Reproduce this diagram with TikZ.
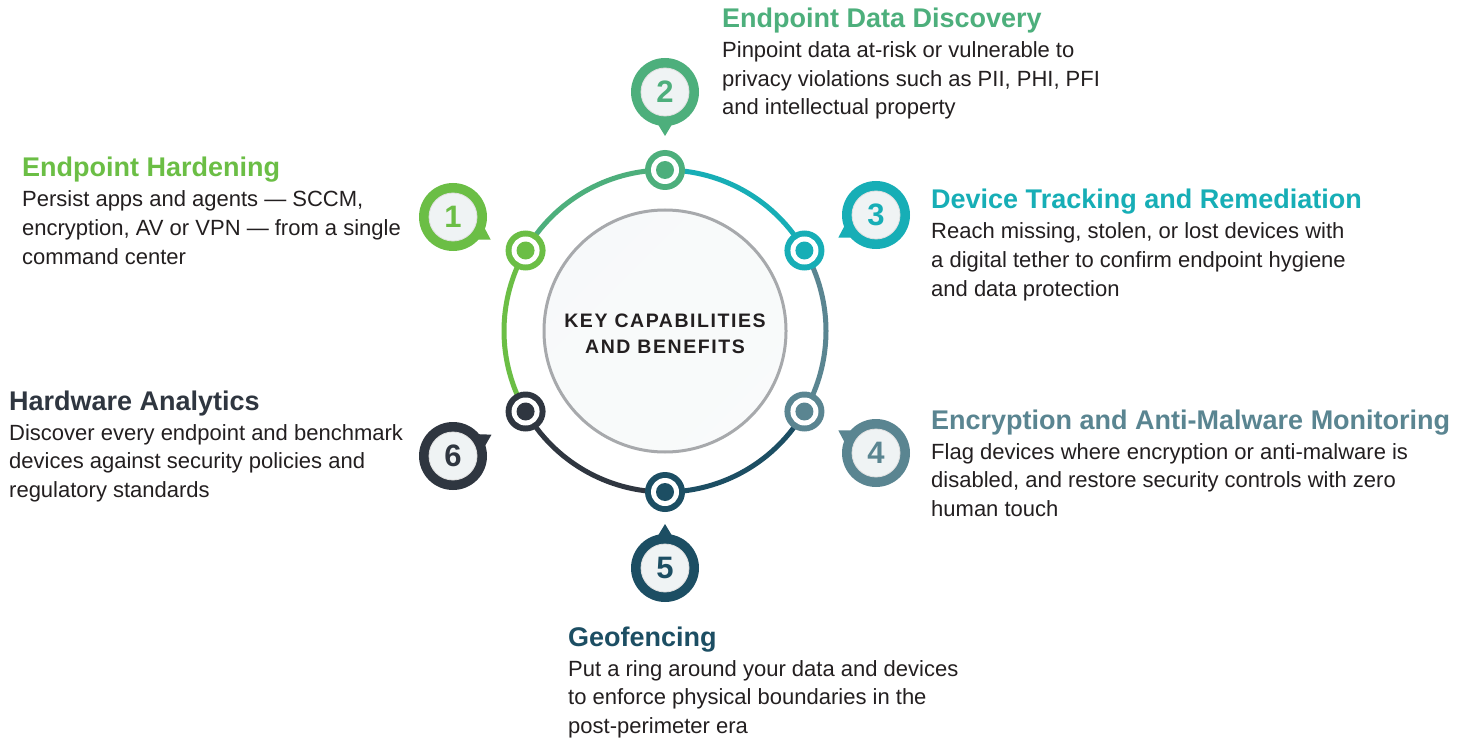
\documentclass[tikz,border=0pt]{standalone}
\usepackage{fontspec}
\setmainfont{Liberation Sans}
\usetikzlibrary{calc}
\definecolor{cA}{HTML}{6BBE45}
\definecolor{cB}{HTML}{4DAF7C}
\definecolor{cC}{HTML}{17AEB6}
\definecolor{cD}{HTML}{5A8591}
\definecolor{cE}{HTML}{1C4E63}
\definecolor{cF}{HTML}{2F3640}
\definecolor{txt}{HTML}{231F20}
\definecolor{pale}{HTML}{EFF3F4}
\definecolor{edge}{HTML}{A7A9AC}
\newcommand\infoblock[8]{%
  \node[titletext,text=#4] (#1t) at (#2,#3) {#5};
  \node[bodytext] (#1a) at (#2,#3+30) {#6};
  \node[bodytext] (#1b) at (#2,#3+58.5) {#7};
  \node[bodytext] (#1c) at (#2,#3+87) {#8};
}
\begin{document}
\begin{tikzpicture}[x=1pt,y=-1pt,
  titletext/.style={anchor=base west,inner sep=0pt,font=\fontsize{27}{30}\selectfont\bfseries},
  bodytext/.style={anchor=base west,inner sep=0pt,text=txt,font=\fontsize{22}{26}\selectfont},
  ringline/.style={line width=5pt},
  markout/.style={circle,fill=#1,minimum size=40pt,inner sep=0pt},
  markin/.style={circle,fill=white,minimum size=28pt,inner sep=0pt},
  markdot/.style={circle,fill=#1,minimum size=18pt,inner sep=0pt},
  bubble/.style={circle,fill=#1,minimum size=68pt,inner sep=0pt},
  bubblein/.style={circle,fill=pale,draw=black!12,line width=0.8pt,minimum size=48pt,inner sep=0pt,text=#1,font=\fontsize{31}{31}\selectfont\bfseries},
  keytext/.style={anchor=base,inner sep=0pt,text=txt,font=\fontsize{19.5}{22}\selectfont\bfseries\addfontfeature{LetterSpace=8}}
]
\useasboundingbox (0,0) rectangle (1475,738);
\fill[white] (0,0) rectangle (1475,738);

% ring centre
\coordinate (c) at (665,331);

% centre disc
\node[circle,minimum size=242pt,inner sep=0pt,draw=edge,line width=3pt,
  left color=pale!85!cD!20,right color=white!60!pale,shading angle=45] (core) at (c) {};
\node[keytext] (k1) at (665,327) {KEY CAPABILITIES};
\node[keytext] (k2) at (665,353) {AND BENEFITS};

% marker positions
\coordinate (p1) at ($(c)+(150:161pt)$);
\coordinate (p2) at ($(c)+(90:161pt)$);
\coordinate (p3) at ($(c)+(30:161pt)$);
\coordinate (p4) at ($(c)+(-30:161pt)$);
\coordinate (p5) at ($(c)+(-90:161pt)$);
\coordinate (p6) at ($(c)+(-150:161pt)$);

% ring arcs
\draw[ringline,cB] (p1) arc[start angle=150,end angle=90,radius=161pt];
\draw[ringline,cC] (p2) arc[start angle=90,end angle=30,radius=161pt];
\draw[ringline,cD] (p3) arc[start angle=30,end angle=-30,radius=161pt];
\draw[ringline,cE] (p4) arc[start angle=-30,end angle=-90,radius=161pt];
\draw[ringline,cF] (p5) arc[start angle=-90,end angle=-150,radius=161pt];
\draw[ringline,cA] (p6) arc[start angle=-150,end angle=-210,radius=161pt];

% markers
\foreach \i/\col in {1/cA,2/cB,3/cC,4/cD,5/cE,6/cF}{
  \node[markout=\col] (mo\i) at (p\i) {};
  \node[markin] (mi\i) at (p\i) {};
  \node[markdot=\col] (m\i) at (p\i) {};
}

% bubbles with tails
\foreach \i/\col/\x/\y/\ang in {1/cA/453/217/-31,2/cB/665/92/-90,3/cC/876/215/211,4/cD/876/453/149,5/cE/665/568/90,6/cF/453/456/29}{
  \coordinate (bc\i) at (\x,\y);
  \fill[\col] ($(bc\i)+(\ang+16:31pt)$) -- ($(bc\i)+(\ang:44pt)$) -- ($(bc\i)+(\ang-16:31pt)$) -- cycle;
  \node[bubble=\col] (b\i) at (bc\i) {};
  \node[bubblein=\col] (n\i) at (bc\i) {\i};
}

% text blocks
\infoblock{e2}{722}{28}{cB}{Endpoint Data Discovery}
  {Pinpoint data at-risk or vulnerable to}
  {privacy violations such as PII, PHI, PFI}
  {and intellectual property}
\infoblock{e1}{22}{177}{cA}{Endpoint Hardening}
  {Persist apps and agents — SCCM,}
  {encryption, AV or VPN — from a single}
  {command center}
\infoblock{e3}{931}{209}{cC}{Device Tracking and Remediation}
  {Reach missing, stolen, or lost devices with}
  {a digital tether to confirm endpoint hygiene}
  {and data protection}
\infoblock{e6}{9}{410}{cF}{Hardware Analytics}
  {Discover every endpoint and benchmark}
  {devices against security policies and}
  {regulatory standards}
\infoblock{e4}{931}{429}{cD}{Encryption and Anti-Malware Monitoring}
  {Flag devices where encryption or anti-malware is}
  {disabled, and restore security controls with zero}
  {human touch}
\infoblock{e5}{568}{646}{cE}{Geofencing}
  {Put a ring around your data and devices}
  {to enforce physical boundaries in the}
  {post-perimeter era}
\end{tikzpicture}
\end{document}
